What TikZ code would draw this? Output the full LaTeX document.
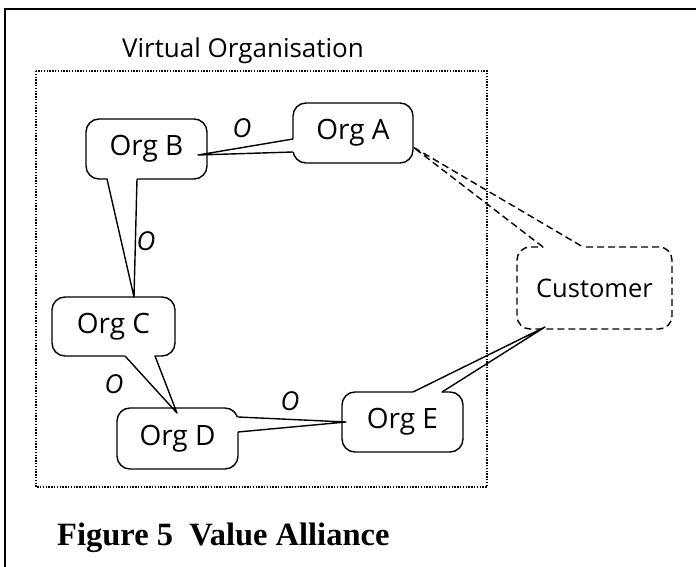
\documentclass[tikz,border=0pt]{standalone}
\usepackage{fontspec}
\usetikzlibrary{calc}
\newfontfamily\bubblefont{Open Sans}
\newfontfamily\captionfont{Liberation Serif}

% speech-bubble tail: #1 owner node, #2 #3 base points, #4 tip, #5 line style
\newcommand\bubbletail[5]{%
  \fill[white] ($(#2)!3pt!(#1.center)$) -- (#2) -- ($(#2)!0.15!(#4)$)
     -- ($(#3)!0.15!(#4)$) -- (#3) -- ($(#3)!3pt!(#1.center)$) -- cycle;
  \draw[#5] (#2) -- (#4) -- (#3);
}

\begin{document}
\begin{tikzpicture}[x=1pt,y=-1pt,
  orgbox/.style={draw, line width=1.4pt, rounded corners=13pt, fill=white,
    inner sep=0pt, outer sep=0pt, minimum width=121pt, minimum height=60pt,
    font=\bubblefont\fontsize{28}{32}\selectfont},
  custbox/.style={orgbox, dash pattern=on 7pt off 4pt,
    font=\bubblefont\fontsize{25.5}{30}\selectfont},
  solidtail/.style={line width=1.4pt, line join=round},
  dashtail/.style={line width=1.4pt, dash pattern=on 7pt off 4pt},
  olabel/.style={font=\bubblefont\itshape\fontsize{26}{30}\selectfont, inner sep=0pt},
  frameline/.style={line width=1.8pt},
  grouprect/.style={line width=1.4pt, dash pattern=on 1.4pt off 1.4pt}]

\useasboundingbox (0,0) rectangle (696,567);

% outer frame (open towards the bottom and right)
\draw[frameline] (5,567) -- (5,9) -- (700,9);

% boxes
\node[orgbox, minimum width=120pt] (A) at (353,133) {Org A};
\node[orgbox] (B) at (146.5,149) {Org B};
\node[orgbox, minimum width=123pt, minimum height=59pt] (C) at (113.5,326.5) {Org C};
\node[orgbox, minimum height=61pt] (D) at (177.5,438.5) {Org D};
\node[orgbox] (E) at (402.5,422) {Org E};
\node[custbox, minimum width=155pt, minimum height=82pt] (Cu) at (594.5,288) {Customer};

% tail base points and tips
\coordinate (a1) at ($(A.north west)+(0,36)$);
\coordinate (a2) at ($(A.north west)+(0,49)$);
\coordinate (ta) at ($(B.east)+(-9,6)$);
\coordinate (b1) at ($(B.south west)+(21,0)$);
\coordinate (b2) at ($(B.south west)+(51,0)$);
\coordinate (tb) at ($(C.north)+(20.5,0)$);
\coordinate (c1) at ($(C.south west)+(73,0)$);
\coordinate (c2) at ($(C.south west)+(103,0)$);
\coordinate (tc) at ($(D.north)+(-0.5,5)$);
\coordinate (d1) at ($(D.north east)+(0,9)$);
\coordinate (d2) at ($(D.north east)+(0,24)$);
\coordinate (td) at ($(E.west)+(4,0)$);
\coordinate (e1) at ($(E.north west)+(71,0)$);
\coordinate (e2) at ($(E.north west)+(100,0)$);
\coordinate (te) at ($(Cu.south)+(-49.5,-2)$);
\coordinate (u1) at ($(Cu.north west)+(26,0)$);
\coordinate (u2) at ($(Cu.north west)+(66,0)$);
\coordinate (tu) at ($(A.east)+(0,14)$);

% tails
\bubbletail{A}{a1}{a2}{ta}{solidtail}
\bubbletail{B}{b1}{b2}{tb}{solidtail}
\bubbletail{C}{c1}{c2}{tc}{solidtail}
\bubbletail{D}{d1}{d2}{td}{solidtail}
\bubbletail{E}{e1}{e2}{te}{solidtail}
\bubbletail{Cu}{u1}{u2}{tu}{dashtail}

% link labels
\node[olabel] (oab) at (242,128) {O};
\node[olabel] (obc) at (146,241) {O};
\node[olabel] (ocd) at (114,384) {O};
\node[olabel] (ode) at (290,401) {O};

% virtual organisation boundary
\draw[grouprect] (36,71) rectangle (487,487);
\node[font=\bubblefont\fontsize{26}{30}\selectfont, anchor=base, inner sep=0pt]
  (vo) at (243,58) {Virtual Organisation};

% caption
\node[font=\captionfont\bfseries\fontsize{32.5}{36}\selectfont, anchor=base west, inner sep=0pt]
  (cap) at (57,545) {Figure 5\ \ Value Alliance};
\end{tikzpicture}
\end{document}
